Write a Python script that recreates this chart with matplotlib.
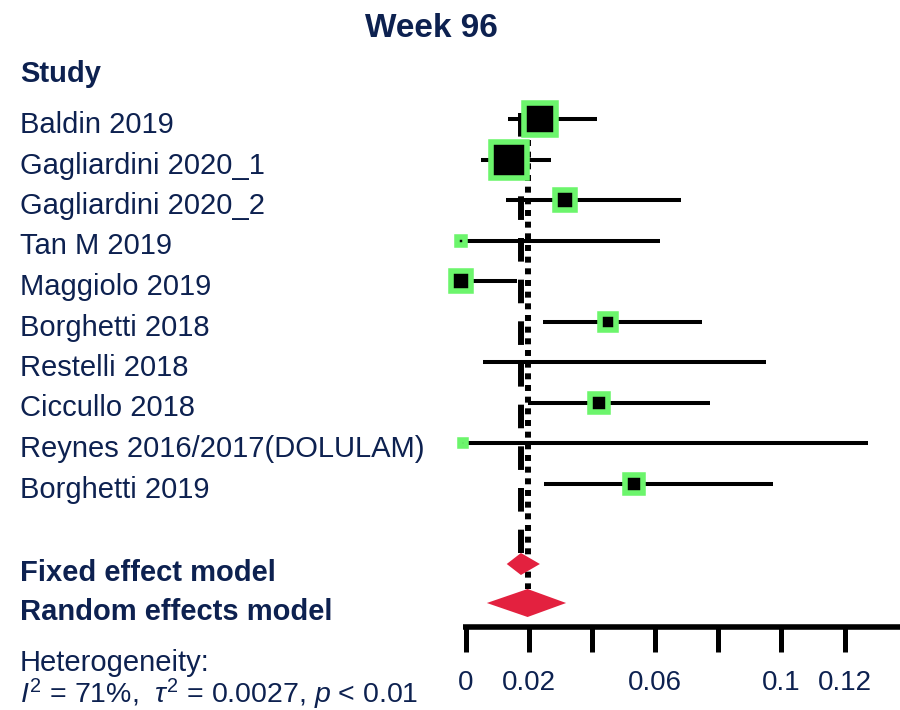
import matplotlib
matplotlib.use("Agg")
import matplotlib.pyplot as plt
import matplotlib.transforms as mtransforms
import numpy as np
from matplotlib.patches import Polygon

plt.rcParams['font.family'] = ['Liberation Sans', 'DejaVu Sans']
plt.rcParams['mathtext.fontset'] = 'custom'
plt.rcParams['mathtext.rm'] = 'Liberation Sans'
plt.rcParams['mathtext.it'] = 'Liberation Sans:italic'
plt.rcParams['lines.scale_dashes'] = False

studies = ['Baldin 2019', 'Gagliardini 2020_1', 'Gagliardini 2020_2', 'Tan M 2019',
           'Maggiolo 2019', 'Borghetti 2018', 'Restelli 2018', 'Ciccullo 2018',
           'Reynes 2016/2017(DOLULAM)', 'Borghetti 2019']
est = [0.0235, 0.0137, 0.0316, -0.0016, -0.0016, 0.0450, np.nan, 0.0423, -0.0009, 0.0533]
ci_lo = [0.0134, 0.0048, 0.0127, -0.0016, -0.0016, 0.0244, 0.0055, 0.0198, -0.0009, 0.0248]
ci_hi = [0.0416, 0.0270, 0.0682, 0.0615, 0.0161, 0.0748, 0.0950, 0.0774, 0.1275, 0.0972]
weight = [28.6, 37.7, 7.7, 0.4, 7.7, 4.7, 0.0, 6.6, 0.05, 6.6]

fixed_est, fixed_lo, fixed_hi = 0.0175, 0.0130, 0.0235
random_est, random_lo, random_hi = 0.0196, 0.0067, 0.0318

tick_vals = [0, 0.02, 0.04, 0.06, 0.08, 0.10, 0.12]
tick_text = ['0', '0.02', '', '0.06', '', '0.1', '0.12']

navy = '#0D2150'
green = '#6CF56C'
red = '#E3213F'

W, H = 900, 710
fig = plt.figure(figsize=(W / 100, H / 100), dpi=100)
axis_y = 627  # pixel row of the x axis line
ax = fig.add_axes([0, (H - axis_y) / H, 1, axis_y / H])
x0_px, px_per_unit = 465.7, 3157.0
ax.set_xlim(-x0_px / px_per_unit, (W - x0_px) / px_per_unit)
ax.set_ylim(axis_y, 0)  # y in pixel rows from the top

row0, row_step = 119, 40.5
rows = row0 + row_step * np.arange(len(studies))
fixed_y, random_y = 564, 603

# reference lines for the pooled estimates
ax.plot([fixed_est, fixed_est], [113, fixed_y - 11], color='black', lw=4.3,
        linestyle=(0, (17, 13)), solid_capstyle='butt', dash_capstyle='butt', zorder=1)
ax.plot([random_est, random_est], [105, random_y - 14], color='black', lw=4.3,
        linestyle=(0, (4.3, 4.1)), dash_capstyle='butt', zorder=1)

# confidence intervals and weighted squares
for y, e, lo, hi, w in zip(rows, est, ci_lo, ci_hi, weight):
    ax.plot([lo, hi], [y, y], color='black', lw=2.9, solid_capstyle='butt', zorder=2)
    if w > 0 and not np.isnan(e):
        black_px = 5.05 * np.sqrt(w)
        mew = 4.0
        ax.plot(e, y, marker='s', ms=black_px * 0.72 + mew, mfc='black', mec=green,
                mew=mew, zorder=3)

# pooled diamonds
for e, lo, hi, y, h in [(fixed_est, fixed_lo, fixed_hi, fixed_y, 22),
                        (random_est, random_lo, random_hi, random_y, 28)]:
    ax.add_patch(Polygon([[lo, y], [e, y - h / 2], [hi, y], [e, y + h / 2]],
                         closed=True, facecolor=red, edgecolor='none', zorder=4))

# x axis
for s in ['top', 'left', 'right']:
    ax.spines[s].set_visible(False)
ax.spines['bottom'].set_linewidth(4)
ax.spines['bottom'].set_bounds(-0.0008, ax.get_xlim()[1])
ax.spines['bottom'].set_capstyle('butt')
ax.set_yticks([])
ax.set_xticks(tick_vals)
ax.set_xticklabels(tick_text)
ax.tick_params(axis='x', direction='out', length=18, width=3.6, pad=13,
               labelsize=20, labelcolor=navy, color='black')

# left-hand text column
tx = mtransforms.blended_transform_factory(fig.transFigure, ax.transData)
lx = 20 / W
for y, name in zip(rows, studies):
    ax.text(lx, y + 14, name, transform=tx, fontsize=21, color=navy, va='baseline')
ax.text(lx, 82, 'Study', transform=tx, fontsize=21, color=navy, va='baseline',
        fontweight='bold')
ax.text(lx, 581, 'Fixed effect model', transform=tx, fontsize=21, color=navy,
        va='baseline', fontweight='bold')
ax.text(lx, 620, 'Random effects model', transform=tx, fontsize=21, color=navy,
        va='baseline', fontweight='bold')
ax.text(lx, 671, 'Heterogeneity:', transform=tx, fontsize=21, color=navy, va='baseline')
ax.text(lx, 703, r'$\mathit{I}^2$ = 71%,  $\tau^2$ = 0.0027, $\mathit{p}$ < 0.01',
        transform=tx, fontsize=20.5, color=navy, va='baseline')

ax.text(431 / W, 37, 'Week 96', transform=tx, fontsize=24, color=navy,
        va='baseline', ha='center', fontweight='bold',
        family=['Liberation Sans Narrow', 'Liberation Sans'])

fig.savefig('out.png', dpi=100)
